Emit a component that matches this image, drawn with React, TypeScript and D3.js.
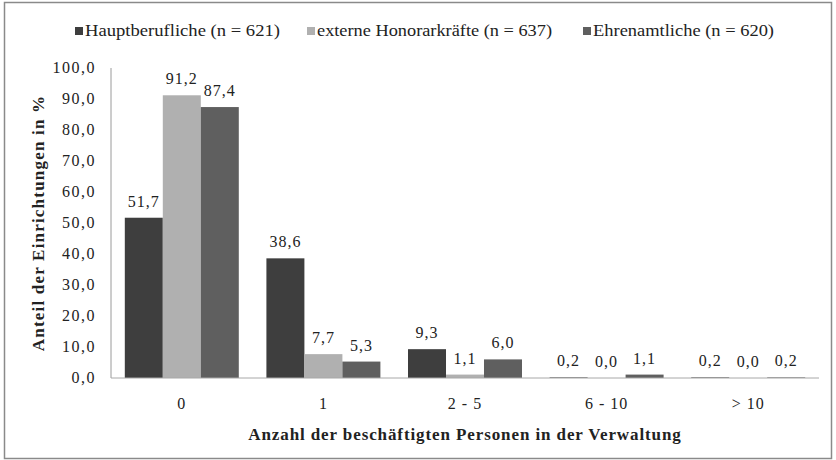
import React from 'react';
import * as d3 from 'd3';

const categories = ['0', '1', '2 - 5', '6 - 10', '> 10'];
const seriesNames = ['Hauptberufliche (n = 621)', 'externe Honorarkräfte (n = 637)', 'Ehrenamtliche (n = 620)'];
const hauptberufliche = [51.7, 38.6, 9.3, 0.2, 0.2];
const honorarkraefte = [91.2, 7.7, 1.1, 0.0, 0.0];
const ehrenamtliche = [87.4, 5.3, 6.0, 1.1, 0.2];
const yTicks = [0, 10, 20, 30, 40, 50, 60, 70, 80, 90, 100];
const colors = ['#3e3e3e', '#b0b0b0', '#5f5f5f'];

const W = 836;
const H = 460;
const margin = { top: 68, right: 17, bottom: 82, left: 111 };
const fmt = (v: number) => v.toFixed(1).replace('.', ',');
const serif = { fontFamily: "'Liberation Serif', 'Times New Roman', serif" };

export default function App() {
  const series = [hauptberufliche, honorarkraefte, ehrenamtliche];

  // Skalen
  const x0 = d3.scaleBand<string>()
    .domain(categories)
    .range([margin.left, W - margin.right])
    .paddingInner(0.195)
    .paddingOuter(0.0975);
  const x1 = d3.scaleBand<number>()
    .domain([0, 1, 2])
    .range([0, x0.bandwidth()]);
  const y = d3.scaleLinear()
    .domain([0, 100])
    .range([H - margin.bottom, margin.top]);

  const legendX = [75, 307, 583];
  const legendW = [195, 235, 181];

  return (
    <svg width={W} height={H} style={{ position: 'absolute', left: 0, top: 0 }}>
      <rect x={0} y={0} width={W} height={H} fill="#fff" />
      <rect x={4.5} y={2.5} width={827} height={456} fill="none" stroke="#8a8a8a" strokeWidth={1.5} />

      {/* Legende */}
      {seriesNames.map((name, i) => (
        <g key={name}>
          <rect x={legendX[i]} y={27} width={8} height={8} fill={colors[i]} />
          <text
            x={legendX[i] + 10}
            y={36}
            fontSize={17}
            fill="#222"
            style={serif}
            textLength={legendW[i]}
            lengthAdjust="spacingAndGlyphs"
          >
            {name}
          </text>
        </g>
      ))}

      {/* y-Achse */}
      <line x1={margin.left} x2={margin.left} y1={y(0)} y2={y(100)} stroke="#9a9a9a" />
      {yTicks.map(t => (
        <text key={t} x={96} y={y(t) + 5} textAnchor="end" fontSize={16} letterSpacing={1.5} fill="#222" style={serif}>
          {fmt(t)}
        </text>
      ))}
      <text
        transform={`translate(44, ${y(50)}) rotate(-90)`}
        textAnchor="middle"
        fontSize={17}
        fontWeight="bold"
        letterSpacing={1.2}
        fill="#222"
        style={serif}
      >
        Anteil der Einrichtungen in %
      </text>

      {/* Balken */}
      {categories.map((c, ci) => (
        <g key={c} transform={`translate(${x0(c)}, 0)`}>
          {series.map((s, si) => (
            <g key={si}>
              <rect
                x={x1(si)}
                y={y(s[ci])}
                width={x1.bandwidth()}
                height={Math.max(y(0) - y(s[ci]), 0)}
                fill={colors[si]}
              />
              <text
                x={(x1(si) ?? 0) + x1.bandwidth() / 2}
                y={y(s[ci]) - 11}
                textAnchor="middle"
                fontSize={16}
                letterSpacing={1}
                fill="#222"
                style={serif}
              >
                {fmt(s[ci])}
              </text>
            </g>
          ))}
        </g>
      ))}

      {/* x-Achse */}
      <line x1={margin.left} x2={W - margin.right} y1={y(0)} y2={y(0)} stroke="#a8a8a8" />
      {categories.map(c => (
        <text
          key={c}
          x={(x0(c) ?? 0) + x0.bandwidth() / 2}
          y={409}
          textAnchor="middle"
          fontSize={16}
          letterSpacing={1}
          fill="#222"
          style={serif}
        >
          {c}
        </text>
      ))}
      <text
        x={(margin.left + W - margin.right) / 2}
        y={440}
        textAnchor="middle"
        fontSize={17}
        fontWeight="bold"
        letterSpacing={0.9}
        fill="#222"
        style={serif}
      >
        Anzahl der beschäftigten Personen in der Verwaltung
      </text>
    </svg>
  );
}
